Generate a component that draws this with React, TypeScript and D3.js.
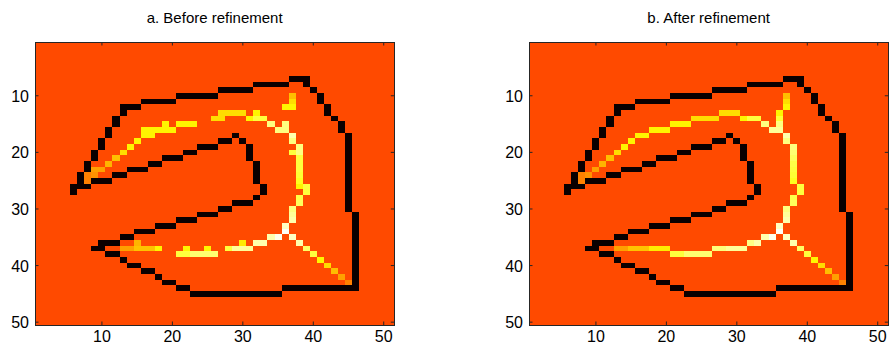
import React, { useEffect, useRef } from 'react';
import * as d3 from 'd3';

// grid size (columns x rows)
const nCols = 51;
const nRows = 50;
const tickValues = [10, 20, 30, 40, 50];
const titles = ['a. Before refinement', 'b. After refinement'];

// values on a "hot" colour scale
const backgroundValue = 0.484;
const edgeValue = 0.015;

// black boundary, same in both panels: [row, firstCol, lastCol]
const boundaryRuns: [number, number, number][] = [
  [7, 37, 39], [8, 32, 36], [8, 39, 39], [9, 27, 31], [9, 40, 40], [10, 21, 26], [10, 41, 41],
  [11, 16, 20], [11, 41, 41], [12, 13, 15], [12, 42, 42], [13, 13, 13], [13, 42, 42],
  [14, 12, 12], [14, 43, 43], [15, 12, 12], [15, 44, 44], [16, 11, 11], [16, 44, 44],
  [17, 11, 11], [17, 29, 29], [18, 10, 10], [18, 27, 28], [18, 30, 30],
  [19, 10, 10], [19, 24, 26], [19, 31, 31], [20, 9, 9], [20, 22, 23], [20, 31, 31],
  [21, 9, 9], [21, 19, 21], [21, 31, 31], [22, 8, 8], [22, 17, 18], [22, 32, 32],
  [23, 8, 8], [23, 14, 16], [23, 32, 32], [24, 7, 7], [24, 12, 13], [24, 32, 32],
  [25, 7, 7], [25, 9, 11], [25, 32, 32], [26, 6, 8], [26, 33, 33], [27, 6, 6], [27, 33, 33],
  [28, 32, 32], [29, 29, 31], [30, 27, 28], [31, 24, 26], [32, 21, 23], [33, 18, 20],
  [34, 15, 17], [35, 13, 14], [36, 10, 12], [37, 9, 10], [38, 11, 12], [39, 13, 13],
  [40, 14, 15], [41, 16, 17], [42, 18, 18], [43, 19, 20], [44, 21, 22], [44, 36, 46], [45, 23, 35],
];
// vertical parts of the boundary: [col, firstRow, lastRow]
const boundaryColumns: [number, number, number][] = [
  [45, 17, 30], [46, 31, 44],
];

// bright ridge before refinement: [row, firstCol, lastCol, value]
const beforeRuns: [number, number, number, number][] = [
  [10, 37, 37, 0.655], [11, 37, 37, 0.7], [12, 36, 37, 0.735],
  [13, 27, 30, 0.7], [13, 32, 32, 0.735],
  [14, 26, 27, 0.7], [14, 31, 31, 0.735], [14, 32, 33, 0.81],
  [15, 19, 19, 0.735], [15, 21, 23, 0.735], [15, 34, 34, 0.875], [15, 36, 36, 0.875],
  [16, 16, 20, 0.735], [16, 35, 36, 0.875],
  [17, 16, 17, 0.735], [17, 37, 37, 0.92],
  [18, 15, 15, 0.735], [18, 37, 37, 0.875],
  [19, 14, 14, 0.735], [19, 38, 38, 0.875],
  [20, 13, 13, 0.7], [20, 37, 37, 0.81], [20, 38, 38, 0.875],
  [21, 12, 12, 0.655], [21, 38, 38, 0.81],
  [22, 11, 11, 0.64], [22, 38, 38, 0.81],
  [23, 9, 10, 0.61], [23, 38, 38, 0.81],
  [24, 8, 8, 0.565], [24, 9, 9, 0.59], [24, 38, 38, 0.8],
  [25, 8, 8, 0.565], [25, 38, 38, 0.78],
  [26, 38, 38, 0.735], [26, 39, 39, 0.81],
  [27, 39, 39, 0.81], [28, 38, 38, 0.82], [29, 38, 38, 0.84],
  [30, 37, 37, 0.875], [31, 37, 37, 0.9], [32, 37, 37, 0.92],
  [33, 36, 36, 0.94], [34, 36, 36, 0.99],
  [35, 34, 34, 0.92], [35, 35, 35, 0.98], [35, 37, 37, 0.94],
  [36, 15, 15, 0.64], [36, 30, 30, 0.72], [36, 32, 33, 0.92], [36, 38, 38, 0.92],
  [37, 13, 14, 0.61], [37, 15, 17, 0.66], [37, 18, 18, 0.735], [37, 22, 22, 0.735],
  [37, 25, 25, 0.735], [37, 28, 28, 0.81], [37, 29, 31, 0.9], [37, 39, 39, 0.85],
  [38, 21, 22, 0.81], [38, 23, 26, 0.86], [38, 40, 40, 0.81],
  [39, 41, 41, 0.74], [40, 42, 42, 0.7], [41, 43, 43, 0.655], [42, 44, 44, 0.61], [43, 45, 45, 0.565],
];

// bright ridge after refinement
const afterRuns: [number, number, number, number][] = [
  [10, 37, 37, 0.655], [11, 37, 37, 0.7], [12, 37, 37, 0.735],
  [13, 28, 30, 0.7], [13, 36, 36, 0.735],
  [14, 24, 27, 0.7], [14, 31, 31, 0.735], [14, 32, 33, 0.81], [14, 36, 36, 0.8],
  [15, 21, 23, 0.735], [15, 34, 34, 0.875], [15, 36, 36, 0.875],
  [16, 18, 20, 0.735], [16, 35, 36, 0.9],
  [17, 16, 17, 0.735], [17, 37, 37, 0.92],
  [18, 15, 15, 0.735], [18, 37, 37, 0.875],
  [19, 14, 14, 0.735], [19, 38, 38, 0.875],
  [20, 13, 13, 0.7], [20, 38, 38, 0.86],
  [21, 12, 12, 0.655], [21, 38, 38, 0.84],
  [22, 11, 11, 0.64], [22, 38, 38, 0.82],
  [23, 10, 10, 0.61], [23, 38, 38, 0.81],
  [24, 8, 8, 0.565], [24, 9, 9, 0.59], [24, 38, 38, 0.8],
  [25, 8, 8, 0.565], [25, 38, 38, 0.78],
  [26, 39, 39, 0.81], [27, 39, 39, 0.81], [28, 38, 38, 0.82], [29, 38, 38, 0.84],
  [30, 37, 37, 0.875], [31, 37, 37, 0.9], [32, 37, 37, 0.92],
  [33, 36, 36, 0.94], [34, 36, 36, 0.99],
  [35, 34, 34, 0.92], [35, 35, 35, 0.98], [35, 37, 37, 0.94],
  [36, 32, 32, 0.88], [36, 33, 33, 0.92], [36, 38, 38, 0.92],
  [37, 13, 14, 0.61], [37, 15, 17, 0.66], [37, 18, 20, 0.72],
  [37, 27, 28, 0.87], [37, 29, 31, 0.9], [37, 39, 39, 0.85],
  [38, 21, 22, 0.81], [38, 23, 26, 0.86], [38, 40, 40, 0.81],
  [39, 41, 41, 0.74], [40, 42, 42, 0.7], [41, 43, 43, 0.655], [42, 44, 44, 0.61], [43, 45, 45, 0.565],
];

const buildGrid = (runs: [number, number, number, number][]) => {
  const grid: number[][] = d3.range(nRows).map(() => d3.range(nCols).map(() => backgroundValue));
  boundaryRuns.forEach(([r, c0, c1]) => {
    for (let c = c0; c <= c1; c++) grid[r - 1][c - 1] = edgeValue;
  });
  boundaryColumns.forEach(([c, r0, r1]) => {
    for (let r = r0; r <= r1; r++) grid[r - 1][c - 1] = edgeValue;
  });
  runs.forEach(([r, c0, c1, v]) => {
    for (let c = c0; c <= c1; c++) grid[r - 1][c - 1] = v;
  });
  return grid;
};

const hot = d3.scaleLinear<string>().domain([0, 0.375, 0.75, 1]).range(['#000000', '#ff0000', '#ffff00', '#ffffff']).clamp(true);

const App = () => {
  const chartRef = useRef<SVGSVGElement>(null);

  useEffect(() => {
    const svg = d3.select(chartRef.current);
    svg.selectAll('*').remove();

    const panels = [
      { grid: buildGrid(beforeRuns), left: 35, right: 394.3, title: titles[0] },
      { grid: buildGrid(afterRuns), left: 529, right: 888.3, title: titles[1] },
    ];
    const top = 42;
    const bottom = 325;
    const font = '"Liberation Sans", Arial, Helvetica, sans-serif';

    panels.forEach((p) => {
      const x = d3.scaleLinear().domain([0.5, nCols + 0.5]).range([p.left, p.right]);
      const y = d3.scaleLinear().domain([0.5, nRows + 0.5]).range([top, bottom]);
      const g = svg.append('g');

      const cells: { r: number; c: number; v: number }[] = [];
      p.grid.forEach((row, i) => row.forEach((v, j) => cells.push({ r: i + 1, c: j + 1, v })));

      g.selectAll('rect.cell')
        .data(cells)
        .enter()
        .append('rect')
        .attr('class', 'cell')
        .attr('x', (d) => x(d.c - 0.5))
        .attr('y', (d) => y(d.r - 0.5))
        .attr('width', x(1.5) - x(0.5) + 0.3)
        .attr('height', y(1.5) - y(0.5) + 0.3)
        .attr('fill', (d) => hot(d.v))
        .attr('shape-rendering', 'crispEdges');

      // box
      g.append('rect')
        .attr('x', p.left)
        .attr('y', top)
        .attr('width', p.right - p.left)
        .attr('height', bottom - top)
        .attr('fill', 'none')
        .attr('stroke', '#262626')
        .attr('stroke-width', 1)
        .attr('shape-rendering', 'crispEdges');

      const tickLen = 3.5;
      tickValues.forEach((t) => {
        // x ticks bottom & top, inward
        g.append('line').attr('x1', x(t)).attr('x2', x(t)).attr('y1', bottom).attr('y2', bottom - tickLen).attr('stroke', '#262626');
        g.append('line').attr('x1', x(t)).attr('x2', x(t)).attr('y1', top).attr('y2', top + tickLen).attr('stroke', '#262626');
        g.append('text')
          .text(t)
          .attr('x', x(t))
          .attr('y', bottom + 17)
          .attr('text-anchor', 'middle')
          .attr('font-family', font)
          .attr('font-size', '16px')
          .attr('fill', '#000');
        // y ticks left & right, inward
        g.append('line').attr('x1', p.left).attr('x2', p.left + tickLen).attr('y1', y(t)).attr('y2', y(t)).attr('stroke', '#262626');
        g.append('line').attr('x1', p.right).attr('x2', p.right - tickLen).attr('y1', y(t)).attr('y2', y(t)).attr('stroke', '#262626');
        g.append('text')
          .text(t)
          .attr('x', p.left - 6)
          .attr('y', y(t) + 6)
          .attr('text-anchor', 'end')
          .attr('font-family', font)
          .attr('font-size', '16px')
          .attr('fill', '#000');
      });

      g.append('text')
        .text(p.title)
        .attr('x', (p.left + p.right) / 2)
        .attr('y', 23)
        .attr('text-anchor', 'middle')
        .attr('font-family', font)
        .attr('font-size', '15px')
        .attr('fill', '#000');
    });
  }, []);

  return (
    <svg
      ref={chartRef}
      width={889}
      height={350}
      style={{ position: 'absolute', left: 0, top: 0, background: '#fff' }}
    />
  );
};

export default App;
